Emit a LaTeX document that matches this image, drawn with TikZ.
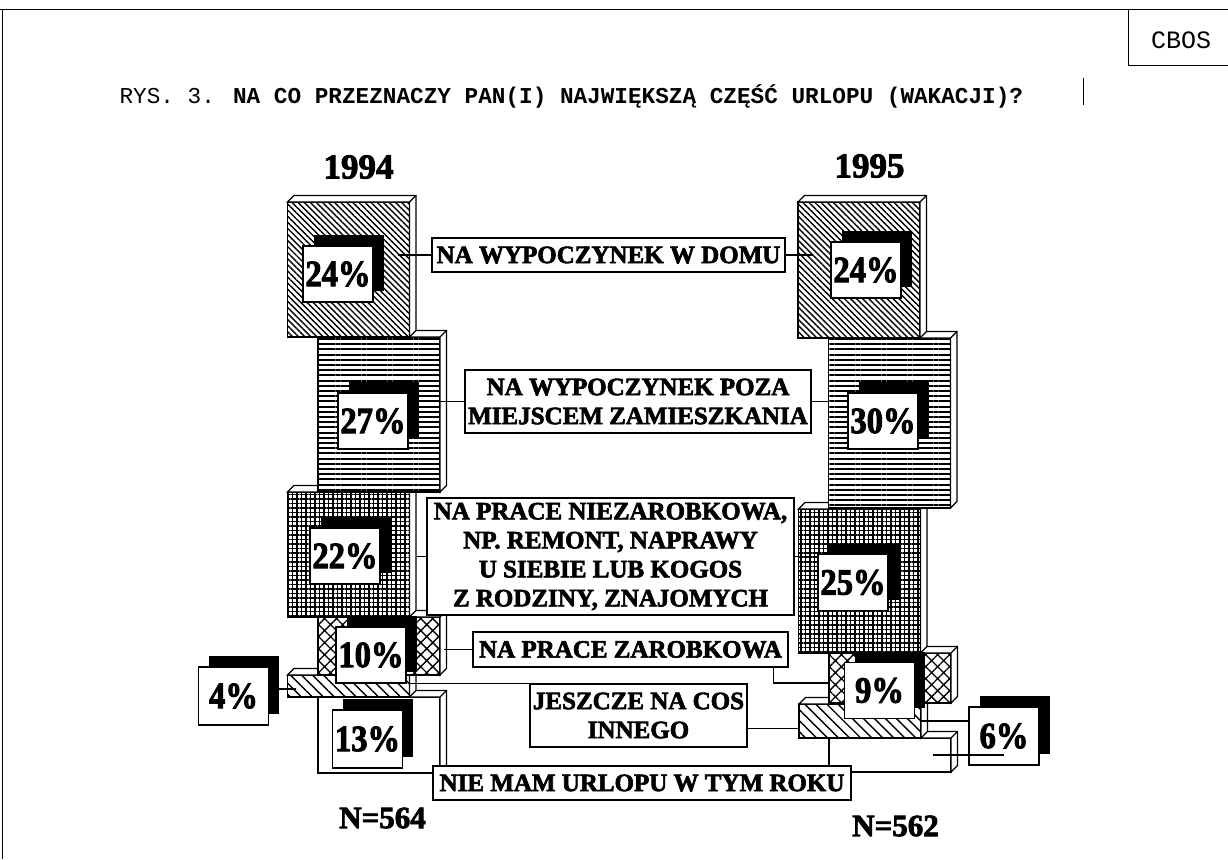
\documentclass[tikz,border=0pt]{standalone}
\usepackage{fontspec}
\setmainfont{Liberation Serif}[BoldFeatures={FakeBold=2.5}]
\newfontfamily\courier{Liberation Mono}
\usetikzlibrary{calc,patterns.meta,shadows}

\tikzset{
  bar/.style={draw, preaction={fill=white}, inner sep=0pt, outer sep=0pt, minimum width=122pt},
  face/.style={draw, fill=white},
  diagA/.style={pattern={Lines[angle=-45,distance=4.3pt,line width=1.4pt]}},
  hlines/.style={pattern={Lines[angle=0,distance=5.2pt,line width=2pt]}},
  grid/.style={pattern={Hatch[distance=4.5pt,line width=1.2pt]}},
  cross/.style={pattern={Hatch[angle=45,distance=8.5pt,line width=1.3pt]}},
  diagB/.style={pattern={Lines[angle=-45,distance=7.8pt,line width=1.4pt]}},
  blank/.style={fill=white},
  pct/.style={draw, fill=white, inner sep=0pt, minimum width=70pt, minimum height=56pt,
    font=\fontsize{37}{37}\selectfont\bfseries\addfontfeature{FakeStretch=0.88},
    general shadow={fill=black, shadow xshift=10.5pt, shadow yshift=11pt}},
  lbl/.style={draw, fill=white, inner sep=0pt, align=center,
    font=\fontsize{25}{29}\selectfont\bfseries},
  year/.style={inner sep=0pt, font=\fontsize{35}{35}\selectfont\bfseries},
}

\begin{document}
\begin{tikzpicture}[x=1pt, y=1pt, line width=1.2pt]
  \useasboundingbox (0,0) rectangle (1228,-859);

  % frame and heading
  \draw[line width=1pt] (0,-10) -- (1228,-10);
  \draw[line width=1pt] (2,-10) -- (2,-859);
  \draw[line width=1pt] (1128,-10) -- (1128,-66) -- (1228,-66);
  \node[font=\courier\fontsize{25}{25}\selectfont] (cbos) at (1181,-40) {CBOS};
  \node[anchor=base west, inner sep=0pt, font=\courier\fontsize{22.7}{24}\selectfont] (title)
    at (119,-103) {RYS. 3. \textbf{NA CO PRZEZNACZY PAN(I) NAJWIĘKSZĄ CZĘŚĆ URLOPU (WAKACJI)?}};
  \draw[line width=1pt] (1083,-78) -- (1083,-105);

  \node[year] (y94) at (358.5,-167) {1994};
  \node[year] (y95) at (869.5,-166) {1995};

  % stacked bars, bottom first
  \foreach \n/\x/\t/\h/\p in {
      L6/318/697/76/blank, L5/287.5/675/22/diagB, L4/318/617/58/cross,
      L3/287.5/492/125/grid, L2/318/337/155/hlines, L1/287.5/202/135/diagA,
      R6/829/738/34/blank, R5/799/704/34/diagB, R4/829/653/50/cross,
      R3/798.5/509/144/grid, R2/828.5/338/170/hlines, R1/798/202/136/diagA} {
    \node[bar, \p, minimum height=\h pt] (\n) at ({\x+61},{-\t-\h/2}) {};
    \draw[face] (\n.north west) -- ++(6.5,6.5) -- ++(122,0) -- ++(0,-\h)
      -- ++(-6.5,-6.5) -- (\n.north east) -- cycle;
    \draw (\n.north east) -- ++(6.5,6.5);
  }

  % answers
  \node[lbl, minimum width=353pt, minimum height=34pt] (lab1) at (608.5,-255) {NA WYPOCZYNEK W DOMU};
  \node[lbl, minimum width=346pt, minimum height=63pt] (lab2) at (638,-401.5)
    {NA WYPOCZYNEK POZA\\MIEJSCEM ZAMIESZKANIA};
  \node[lbl, minimum width=367pt, minimum height=117pt] (lab3) at (610.5,-556.5)
    {NA PRACE NIEZAROBKOWA,\\NP. REMONT, NAPRAWY\\U SIEBIE LUB KOGOS\\Z RODZINY, ZNAJOMYCH};
  \node[lbl, minimum width=315pt, minimum height=35pt] (lab4) at (630.5,-649.5) {NA PRACE ZAROBKOWA};
  \node[lbl, minimum width=217pt, minimum height=63pt] (lab5) at (638.5,-715.5) {JESZCZE NA COS\\INNEGO};
  \node[lbl, minimum width=418pt, minimum height=34pt] (lab6) at (642,-783) {NIE MAM URLOPU W TYM ROKU};

  % percentages
  \node[pct] (p24a) at (338,-274) {24\%};
  \node[pct] (p27) at (373,-421) {27\%};
  \node[pct] (p22) at (345,-556) {22\%};
  \node[pct] (p10) at (371,-655) {10\%};
  \node[pct, minimum height=58pt] (p4) at (233.5,-696) {4\%};
  \node[pct, minimum height=58pt] (p13) at (367.5,-739) {13\%};
  \node[pct] (p24b) at (866,-270) {24\%};
  \node[pct] (p30) at (883,-421) {30\%};
  \node[pct] (p25) at (853,-582.5) {25\%};
  \node[pct] (p9) at (879.5,-690.5) {9\%};
  \node[pct, minimum height=58pt] (p6) at (1004,-736) {6\%};

  % connectors
  \draw (lab1.west) -- ($(lab1.west -| L1.east)+(-12,0)$);
  \draw (lab1.east) -- ($(lab1.east -| R1.west)+(15,0)$);
  \draw (lab2.west) -- ($(lab2.west -| L2.east)+(-15,0)$);
  \draw (lab2.east) -- (lab2.east -| R2.west);
  \draw (lab3.west) -- ($(lab3.west -| L3.east)+(6,0)$);
  \draw (lab3.east) -- ($(lab3.east -| R3.west)+(20,0)$);
  \draw (lab4.west) -- ($(lab4.west -| L4.east)+(4,0)$);
  \draw ($(lab4.south east)+(-15,0)$) |- ($(R4.west)+(0,-5)$);
  \draw (lab5.north west) -- (lab5.north west -| L5.east);
  \draw ($(lab5.east)+(0,-13)$) -- ($(lab5.east -| R5.west)+(0,-13)$);
  \draw ($(p4.east)+(0,7)$) -- ($(p4.east -| L5.west)+(8,7)$);
  \draw (R5.east) -- (R5.east -| p6.west);
  \draw ($(R6.east)+(-18,0)$) -- (R6.east -| p6.center);

  \node[year, font=\fontsize{31}{31}\selectfont\bfseries] (n94) at (382.5,-818) {N=564};
  \node[year, font=\fontsize{31}{31}\selectfont\bfseries] (n95) at (895.5,-826) {N=562};
\end{tikzpicture}
\end{document}
